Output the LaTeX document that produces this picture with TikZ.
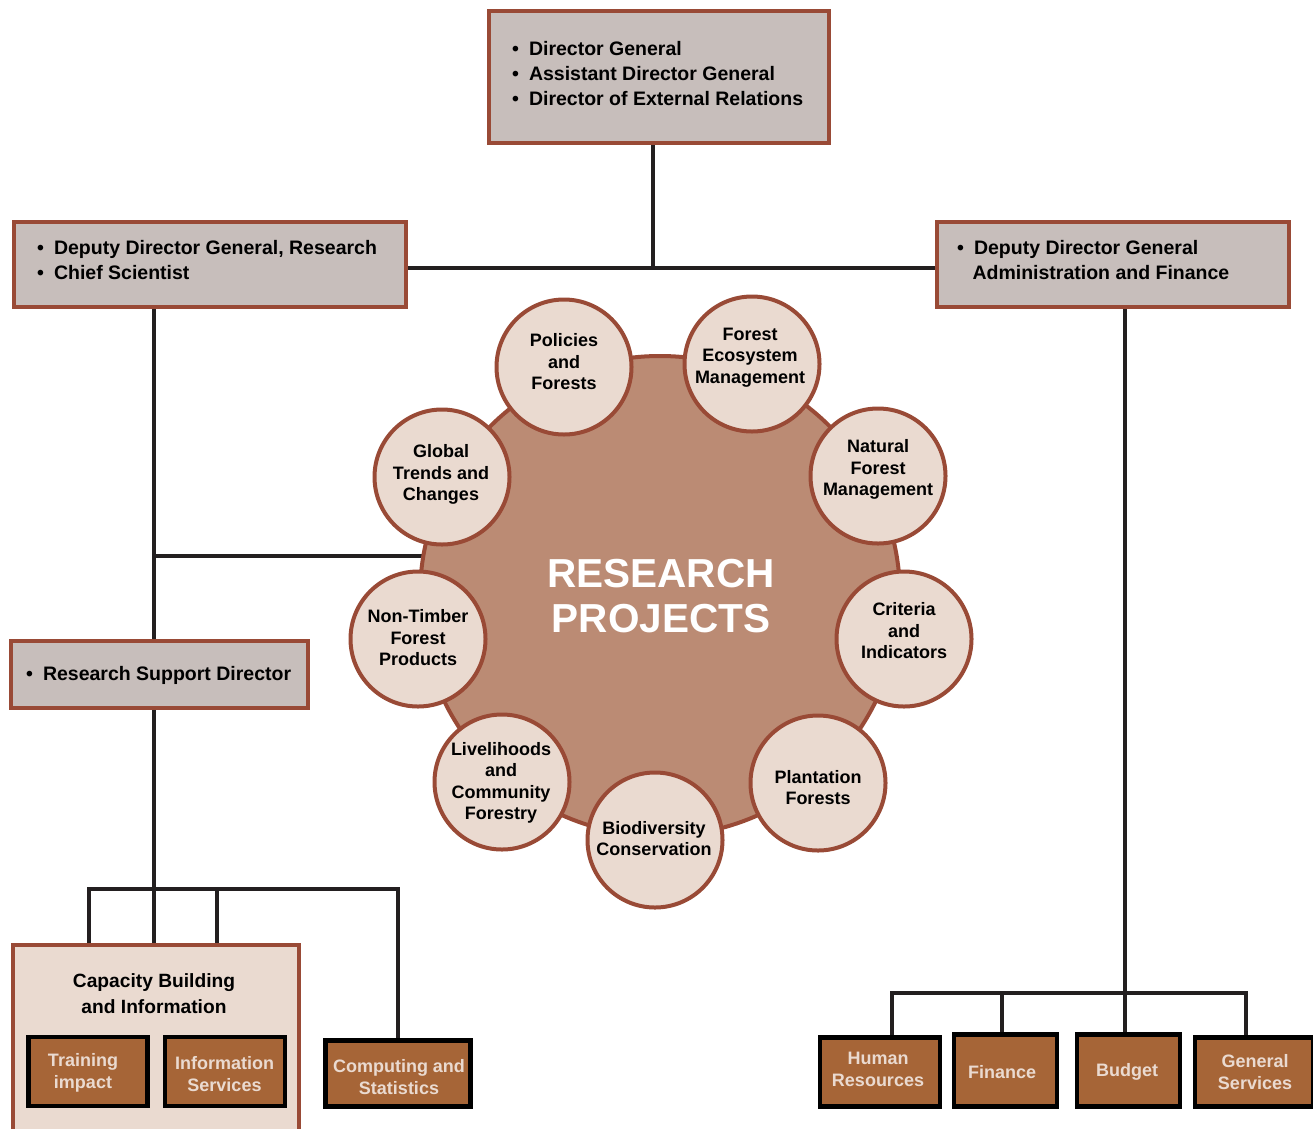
\documentclass[tikz,border=0pt]{standalone}
\usepackage{fontspec}
\setmainfont{Liberation Sans}
\definecolor{brd}{RGB}{153,74,54}
\definecolor{boxgray}{RGB}{199,190,187}
\definecolor{lightfill}{RGB}{234,218,208}
\definecolor{bigfill}{RGB}{187,139,116}
\definecolor{orangefill}{RGB}{166,101,55}
\definecolor{linedark}{RGB}{35,31,32}
\begin{document}
\begin{tikzpicture}[x=1pt,y=-1pt,
  graybox/.style={draw=brd,line width=4pt,fill=boxgray,inner sep=0pt},
  lightbox/.style={draw=brd,line width=4pt,fill=lightfill,inner sep=0pt},
  unitbox/.style={draw=black,line width=4.5pt,fill=orangefill,inner sep=0pt},
  bigc/.style={circle,draw=brd,line width=4pt,fill=bigfill,inner sep=0pt,minimum size=480pt},
  smallc/.style={circle,draw=brd,line width=4pt,fill=lightfill,inner sep=0pt,minimum size=135pt},
  btext/.style={anchor=west,align=left,inner sep=0pt,font=\bfseries\fontsize{19.5}{25}\selectfont},
  ctext/.style={align=center,inner sep=0pt,font=\bfseries\fontsize{18}{21.5}\selectfont},
  utext/.style={align=center,inner sep=0pt,text=lightfill,font=\bfseries\fontsize{18}{22}\selectfont},
  conn/.style={draw=linedark,line width=4pt}]
\clip (0,0) rectangle (1313,1128);
\fill[white] (0,0) rectangle (1313,1128);

% coordinates for connector routing
\coordinate (hub) at (653,268);
\coordinate (ltrunk) at (154,556);
\coordinate (bigc) at (660,596);
\coordinate (lb1) at (89,889);
\coordinate (lb2) at (154,889);
\coordinate (lb3) at (217,889);
\coordinate (lb4) at (398,889);
\coordinate (rb1) at (892,993);
\coordinate (rb2) at (1002,993);
\coordinate (rb3) at (1125,993);
\coordinate (rb4) at (1246,993);

% boxes
\node[graybox,minimum width=340pt,minimum height=132pt] (top) at (659,77) {};
\node[graybox,minimum width=392pt,minimum height=85pt] (ddgr) at (210,264.5) {};
\node[graybox,minimum width=352pt,minimum height=85pt] (ddga) at (1113,264.5) {};
\node[graybox,minimum width=297pt,minimum height=67pt] (rsd) at (159.5,674.5) {};
\node[lightbox,minimum width=286pt,minimum height=200pt] (cap) at (156,1045) {};
\node[unitbox,minimum width=119pt,minimum height=69pt] (train) at (88,1071.5) {};
\node[unitbox,minimum width=120pt,minimum height=69pt] (info) at (225,1071.5) {};
\node[unitbox,minimum width=145pt,minimum height=66pt] (comp) at (398,1073.5) {};
\node[unitbox,minimum width=120pt,minimum height=69pt] (hr) at (880,1072) {};
\node[unitbox,minimum width=103pt,minimum height=72pt] (fin) at (1005.5,1070.5) {};
\node[unitbox,minimum width=103pt,minimum height=72pt] (bud) at (1128.5,1070.5) {};
\node[unitbox,minimum width=118pt,minimum height=69pt] (gen) at (1254,1072) {};

% connectors
\draw[conn] (top.south -| hub) -- (hub);
\draw[conn] (ddgr.east |- hub) -- (ddga.west |- hub);
\draw[conn] (ddgr.south -| ltrunk) -- (rsd.north -| ltrunk);
\draw[conn] (ltrunk) -- (ltrunk -| bigc);
\draw[conn] (rsd.south -| lb2) -- (cap.north -| lb2);
\draw[conn] (cap.north -| lb1) -- (lb1) -- (lb4) -- (comp.north -| lb4);
\draw[conn] (lb3) -- (cap.north -| lb3);
\draw[conn] (ddga.south -| rb3) -- (bud.north -| rb3);
\draw[conn] (hr.north -| rb1) -- (rb1) -- (rb4) -- (gen.north -| rb4);
\draw[conn] (rb2) -- (fin.north -| rb2);

% big circle (covers the end of the branch connector)
\node[bigc] (big) at (bigc) {};

% small circles
\node[smallc] (pol) at (564,367) {};
\node[smallc] (fem) at (752,364) {};
\node[smallc] (nfm) at (878,476) {};
\node[smallc] (cri) at (904,639) {};
\node[smallc] (pla) at (818,783) {};
\node[smallc] (bio) at (655,840) {};
\node[smallc] (liv) at (502,782) {};
\node[smallc] (ntf) at (418,639) {};
\node[smallc] (glo) at (442,477) {};

% circle texts
\node[ctext] (tpol) at (564,362) {Policies\\and\\Forests};
\node[ctext] (tfem) at (750,357.5) {Forest\\Ecosystem\\Management};
\node[ctext] (tnfm) at (878,469.5) {Natural\\Forest\\Management};
\node[ctext] (tcri) at (904,631) {Criteria\\and\\Indicators};
\node[ctext] (tpla) at (818,787.5) {Plantation\\Forests};
\node[ctext] (tbio) at (654,838.5) {Biodiversity\\Conservation};
\node[ctext] (tliv) at (501,783) {Livelihoods\\and\\Community\\Forestry};
\node[ctext] (tntf) at (418,638) {Non-Timber\\Forest\\Products};
\node[ctext] (tglo) at (441,474.5) {Global\\Trends and\\Changes};

\node[align=center,inner sep=0pt,text=white,font=\bfseries\fontsize{40.5}{45}\selectfont] (rp) at (661,596) {RESEARCH\\PROJECTS};

% box texts
\node[btext] (ttop) at (512,74) {\textbullet\hspace{10pt}Director General\\\textbullet\hspace{10pt}Assistant Director General\\\textbullet\hspace{10pt}Director of External Relations};
\node[btext] (tddgr) at (37,260.5) {\textbullet\hspace{10pt}Deputy Director General, Research\\\textbullet\hspace{10pt}Chief Scientist};
\node[btext] (tddga) at (957,260.5) {\textbullet\hspace{10pt}Deputy Director General\\\hphantom{\textbullet}\hspace{8.5pt}Administration and Finance};
\node[btext] (trsd) at (26,675) {\textbullet\hspace{10pt}Research Support Director};
\node[align=center,inner sep=0pt,font=\bfseries\fontsize{19.2}{26}\selectfont] (tcap) at (154,994) {Capacity Building\\and Information};

% unit texts
\node[utext] (ttrain) at (83,1073) {Training\\impact};
\node[utext] (tinfo) at (224.5,1074) {Information\\Services};
\node[utext] (tcomp) at (399,1077.5) {Computing and\\Statistics};
\node[utext] (thr) at (878,1069.5) {Human\\Resources};
\node[utext] (tfin) at (1002,1072) {Finance};
\node[utext] (tbud) at (1127,1072) {Budget};
\node[utext] (tgen) at (1255,1072.5) {General\\Services};
\end{tikzpicture}
\end{document}
